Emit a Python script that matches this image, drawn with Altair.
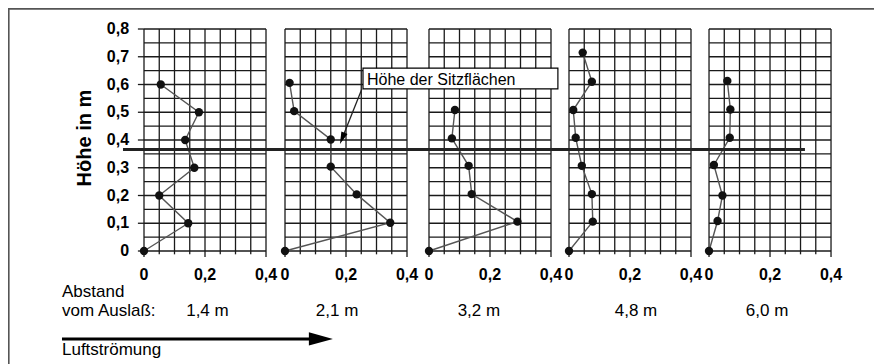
import altair as alt
import pandas as pd

# ------------------------------------------------------------------ data
DISTANCES = ["1,4 m", "2,1 m", "3,2 m", "4,8 m", "6,0 m"]

HEIGHT_1 = [0, 0.1, 0.2, 0.3, 0.4, 0.5, 0.6]
SPEED_1 = [0, 0.145, 0.05, 0.165, 0.135, 0.18, 0.055]

HEIGHT_2 = [0, 0.102, 0.204, 0.304, 0.402, 0.504, 0.606]
SPEED_2 = [0, 0.345, 0.235, 0.15, 0.15, 0.03, 0.015]

HEIGHT_3 = [0, 0.106, 0.205, 0.307, 0.406, 0.508]
SPEED_3 = [0, 0.29, 0.14, 0.13, 0.075, 0.085]

HEIGHT_4 = [0, 0.106, 0.205, 0.307, 0.408, 0.508, 0.61, 0.715]
SPEED_4 = [0, 0.078, 0.075, 0.042, 0.022, 0.014, 0.075, 0.045]

HEIGHT_5 = [0, 0.108, 0.2, 0.31, 0.408, 0.51, 0.613]
SPEED_5 = [0, 0.028, 0.044, 0.016, 0.068, 0.07, 0.06]

HEIGHTS = [HEIGHT_1, HEIGHT_2, HEIGHT_3, HEIGHT_4, HEIGHT_5]
SPEEDS = [SPEED_1, SPEED_2, SPEED_3, SPEED_4, SPEED_5]

X_TICKS = [0, 0.2, 0.4]
X_TICK_LABELS = ["0", "0,2", "0,4"]
Y_TICKS = [0, 0.1, 0.2, 0.3, 0.4, 0.5, 0.6, 0.7, 0.8]
Y_TICK_LABELS = ["0", "0,1", "0,2", "0,3", "0,4", "0,5", "0,6", "0,7", "0,8"]
X_GRID = [0, 0.05, 0.1, 0.15, 0.2, 0.25, 0.3, 0.35, 0.4]
Y_GRID = [0, 0.05, 0.1, 0.15, 0.2, 0.25, 0.3, 0.35, 0.4, 0.45, 0.5,
          0.55, 0.6, 0.65, 0.7, 0.75, 0.8]
SEAT_HEIGHT = 0.366

Y_TITLE = "Höhe in m"
SEAT_LABEL = "Höhe der Sitzflächen"
ABSTAND = ["Abstand", "vom Auslaß:"]
FLOW_LABEL = "Luftströmung"

# ---------------------------------------------------------------- layout
W, H = 866, 356
XDOM = [-0.4459, 2.3934]
YDOM = [-0.4072, 0.8757]
PANEL_OFFSET = [0, 0.4623, 0.9344, 1.3934, 1.8525]
DIST_POS = [0.208, 0.633, 1.098, 1.613, 2.043]
FONT = "Liberation Sans"
GRID_COLOR = "#1a1a1a"

xs = alt.Scale(domain=XDOM, nice=False, zero=False)
ys = alt.Scale(domain=YDOM, nice=False, zero=False)


def X(f):
    return alt.X(f"{f}:Q", scale=xs, axis=None)


def Y(f):
    return alt.Y(f"{f}:Q", scale=ys, axis=None)


# ---------------------------------------------------------------- tables
vgrid = pd.DataFrame([
    {"u": off + v, "y0": 0, "y1": 0.8}
    for off in PANEL_OFFSET for v in X_GRID
])
hgrid = pd.DataFrame([
    {"u0": off, "u1": off + 0.4, "y": h}
    for off in PANEL_OFFSET for h in Y_GRID
])
bticks = pd.DataFrame([
    {"u": off + v, "y0": 0, "y1": (-0.022 if v in X_TICKS else -0.012)}
    for off in PANEL_OFFSET for v in X_GRID
])
yticks = pd.DataFrame([{"u0": -0.02, "u1": 0, "y": t} for t in Y_TICKS])

profiles = pd.DataFrame([
    {"panel": p, "i": i, "u": PANEL_OFFSET[p] + s, "y": h}
    for p in range(5)
    for i, (h, s) in enumerate(zip(HEIGHTS[p], SPEEDS[p]))
])

xlabels = pd.DataFrame([
    {"u": off + t, "y": -0.1045, "label": lab}
    for off in PANEL_OFFSET for t, lab in zip(X_TICKS, X_TICK_LABELS)
])
ylabels = pd.DataFrame([
    {"u": -0.049, "y": t, "label": lab} for t, lab in zip(Y_TICKS, Y_TICK_LABELS)
])
dist_labels = pd.DataFrame([
    {"u": u, "y": -0.234, "label": d} for u, d in zip(DIST_POS, DISTANCES)
])
left_labels = pd.DataFrame([
    {"u": -0.2689, "y": -0.164, "label": ABSTAND[0]},
    {"u": -0.2689, "y": -0.234, "label": ABSTAND[1]},
    {"u": -0.2689, "y": -0.375, "label": FLOW_LABEL},
])

# ---------------------------------------------------------------- layers
grid_v = alt.Chart(vgrid).mark_rule(color=GRID_COLOR, strokeWidth=1.3).encode(
    x=X("u"), y=Y("y0"), y2="y1")
grid_h = alt.Chart(hgrid).mark_rule(color=GRID_COLOR, strokeWidth=1.3).encode(
    x=X("u0"), x2="u1", y=Y("y"))
ticks_b = alt.Chart(bticks).mark_rule(color=GRID_COLOR, strokeWidth=1.3).encode(
    x=X("u"), y=Y("y0"), y2="y1")
ticks_y = alt.Chart(yticks).mark_rule(color=GRID_COLOR, strokeWidth=1.3).encode(
    x=X("u0"), x2="u1", y=Y("y"))

lines = alt.Chart(profiles).mark_line(color="#555555", strokeWidth=1.4).encode(
    x=X("u"), y=Y("y"), detail="panel:N", order="i:Q")
points = alt.Chart(profiles).mark_circle(size=70, color="#111111", opacity=1).encode(
    x=X("u"), y=Y("y"))

seat = alt.Chart(pd.DataFrame([{"u0": -0.0689, "u1": 2.167, "y": SEAT_HEIGHT}])).mark_rule(
    color="#222222", strokeWidth=3).encode(x=X("u0"), x2="u1", y=Y("y"))

box = alt.Chart(pd.DataFrame([{"u0": 0.718, "u1": 1.357, "y0": 0.584, "y1": 0.659}])).mark_rect(
    fill="white", stroke="black", strokeWidth=1.2).encode(
    x=X("u0"), x2="u1", y=Y("y0"), y2="y1")
box_text = alt.Chart(pd.DataFrame([{"u": 0.731, "y": 0.6, "label": SEAT_LABEL}])).mark_text(
    align="left", baseline="alphabetic", font=FONT, fontSize=16, color="black").encode(
    x=X("u"), y=Y("y"), text="label:N")

pointer = pd.DataFrame([{"u": 0.714, "y": 0.583, "k": 0}, {"u": 0.6498, "y": 0.406, "k": 1}])
pointer_line = alt.Chart(pointer).mark_line(color="#222222", strokeWidth=1.3).encode(
    x=X("u"), y=Y("y"), order="k:Q")
pointer_head = alt.Chart(pointer[pointer.k == 1]).mark_point(
    shape="M0,-1L0.55,1L-0.55,1Z", size=144, filled=True, color="black",
    opacity=1, angle=202).encode(x=X("u"), y=Y("y"))

flow = pd.DataFrame([{"u": -0.2689, "y": -0.317, "k": 0}, {"u": 0.56, "y": -0.317, "k": 1}])
flow_line = alt.Chart(flow).mark_line(color="black", strokeWidth=3).encode(
    x=X("u"), y=Y("y"), order="k:Q")
flow_head = alt.Chart(pd.DataFrame([{"u": 0.580, "y": -0.317}])).mark_point(
    shape="M-1,-0.55L1,0L-1,0.55Z", size=576, filled=True, color="black",
    opacity=1).encode(x=X("u"), y=Y("y"))

xlab = alt.Chart(xlabels).mark_text(
    align="center", baseline="alphabetic", font=FONT, fontSize=16,
    fontWeight="bold", color="black").encode(x=X("u"), y=Y("y"), text="label:N")
ylab = alt.Chart(ylabels).mark_text(
    align="right", baseline="middle", font=FONT, fontSize=16,
    fontWeight="bold", color="black").encode(x=X("u"), y=Y("y"), text="label:N")
ytitle = alt.Chart(pd.DataFrame([{"u": -0.193, "y": 0.407, "label": Y_TITLE}])).mark_text(
    align="center", baseline="middle", angle=270, font=FONT, fontSize=20,
    fontWeight="bold", color="black").encode(x=X("u"), y=Y("y"), text="label:N")
dlab = alt.Chart(dist_labels).mark_text(
    align="center", baseline="alphabetic", font=FONT, fontSize=17,
    color="black").encode(x=X("u"), y=Y("y"), text="label:N")
llab = alt.Chart(left_labels).mark_text(
    align="left", baseline="alphabetic", font=FONT, fontSize=17,
    color="black").encode(x=X("u"), y=Y("y"), text="label:N")

frame_top = alt.Chart(pd.DataFrame([{"u0": XDOM[0], "u1": XDOM[1], "y": YDOM[1] - 0.003}])).mark_rule(
    color="#555555", strokeWidth=2).encode(x=X("u0"), x2="u1", y=Y("y"))
frame_left = alt.Chart(pd.DataFrame([{"u": XDOM[0] + 0.002, "y0": YDOM[0], "y1": YDOM[1]}])).mark_rule(
    color="#555555", strokeWidth=2).encode(x=X("u"), y=Y("y0"), y2="y1")

chart = alt.layer(
    frame_top, frame_left,
    grid_v, grid_h, ticks_b, ticks_y,
    lines, points, seat,
    pointer_line, pointer_head, box, box_text,
    flow_line, flow_head,
    xlab, ylab, ytitle, dlab, llab,
).properties(
    width=W, height=H, padding=0, autosize=alt.AutoSizeParams(type="none"),
    background="white",
).configure_view(stroke="transparent")

chart.save("out.html", embed_options={"renderer": "svg", "actions": False})
